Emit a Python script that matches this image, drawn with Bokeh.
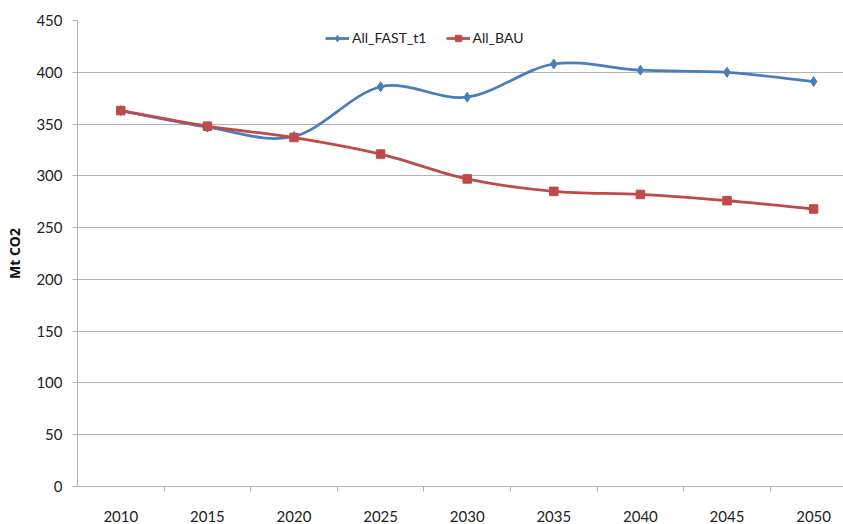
from bokeh.plotting import figure
from bokeh.models import Range1d, FixedTicker, Legend, LegendItem
from bokeh.embed import file_html
from bokeh.resources import INLINE

years = ["2010", "2015", "2020", "2025", "2030", "2035", "2040", "2045", "2050"]
fast_t1 = [363, 347, 338, 386, 376, 408, 402, 400, 391]
bau = [363, 348, 337, 321, 297, 285, 282, 276, 268]
y_ticks = [0, 50, 100, 150, 200, 250, 300, 350, 400, 450]

BLUE = "#4A7EBB"
RED = "#BE4B48"
GRID = "#b3b3b3"
FONT = "Lato"
TXT = "#222222"

xs = list(range(len(years)))

p = figure(width=843, height=524, output_backend="svg", toolbar_location=None,
           x_range=Range1d(-0.5, 8.345), y_range=Range1d(0, 450),
           min_border_left=77, min_border_right=0, min_border_top=20, min_border_bottom=32)
p.outline_line_color = None
p.background_fill_color = "white"

# y axis
p.yaxis.ticker = FixedTicker(ticks=y_ticks)
p.yaxis.axis_line_color = GRID
p.yaxis.major_tick_line_color = GRID
p.yaxis.major_tick_out = 5
p.yaxis.major_tick_in = 0
p.yaxis.minor_tick_line_color = None
p.yaxis.major_label_standoff = 10
p.yaxis.major_label_text_font = FONT
p.yaxis.major_label_text_font_size = "15px"
p.yaxis.major_label_text_color = TXT
p.yaxis.axis_label = "Mt CO2"
p.yaxis.axis_label_text_font = "Open Sans"
p.yaxis.axis_label_text_font_size = "14px"
p.yaxis.axis_label_text_font_style = "bold"
p.yaxis.axis_label_text_color = "#111111"
p.yaxis.axis_label_standoff = 9

# x axis: labels at category centres, ticks at boundaries
bounds = [i + 0.5 for i in range(len(years))]
p.xaxis.ticker = FixedTicker(ticks=xs, minor_ticks=bounds)
p.xaxis.major_label_overrides = {i: y for i, y in enumerate(years)}
p.xaxis.axis_line_color = GRID
p.xaxis.major_tick_line_color = None
p.xaxis.minor_tick_line_color = GRID
p.xaxis.minor_tick_out = 5
p.xaxis.minor_tick_in = 0
p.xaxis.major_label_standoff = 18
p.xaxis.major_label_text_font = FONT
p.xaxis.major_label_text_font_size = "15px"
p.xaxis.major_label_text_color = TXT

p.xgrid.grid_line_color = None
p.ygrid.ticker = FixedTicker(ticks=y_ticks)
p.ygrid.grid_line_color = GRID
p.ygrid.grid_line_width = 1


def smooth_segments(x, y):
    n = len(x)
    px = [x[0]] + list(x) + [x[-1]]
    py = [y[0]] + list(y) + [y[-1]]
    x0, y0, x1, y1, cx0, cy0, cx1, cy1 = [], [], [], [], [], [], [], []
    for i in range(1, n):
        a, b, c, d = i - 1, i, i + 1, i + 2
        x0.append(px[b]); y0.append(py[b])
        x1.append(px[c]); y1.append(py[c])
        cx0.append(px[b] + (px[c] - px[a]) / 6.0)
        cy0.append(py[b] + (py[c] - py[a]) / 6.0)
        cx1.append(px[c] - (px[d] - px[b]) / 6.0)
        cy1.append(py[c] - (py[d] - py[b]) / 6.0)
    return dict(x0=x0, y0=y0, x1=x1, y1=y1, cx0=cx0, cy0=cy0, cx1=cx1, cy1=cy1)


s_fast = smooth_segments(xs, fast_t1)
s_bau = smooth_segments(xs, bau)

p.bezier(line_color=BLUE, line_width=2.75, **s_fast)
p.bezier(line_color=RED, line_width=2.75, **s_bau)

m_fast = p.scatter(xs, fast_t1, marker="diamond", size=10, fill_color=BLUE, line_color=BLUE)
m_bau = p.scatter(xs, bau, marker="square", size=8.5, fill_color=RED, line_color=RED)

# zero-length line renderers (hidden under the first markers) used only for the legend swatches
l_fast = p.line([xs[0], xs[0]], [fast_t1[0], fast_t1[0]], line_color=BLUE, line_width=2.75)
l_bau = p.line([xs[0], xs[0]], [bau[0], bau[0]], line_color=RED, line_width=2.75)

legend = Legend(items=[LegendItem(label="All_FAST_t1", renderers=[l_fast, m_fast]),
                       LegendItem(label="All_BAU", renderers=[l_bau, m_bau])],
                orientation="horizontal", location=(248, 440),
                border_line_color=None, background_fill_alpha=0,
                label_text_font=FONT, label_text_font_size="14px",
                label_text_color=TXT, glyph_width=24, glyph_height=16,
                label_height=16, label_standoff=3, spacing=19, padding=2, margin=0)
p.add_layout(legend, "center")

open("out.html", "w").write(file_html(p, INLINE))
